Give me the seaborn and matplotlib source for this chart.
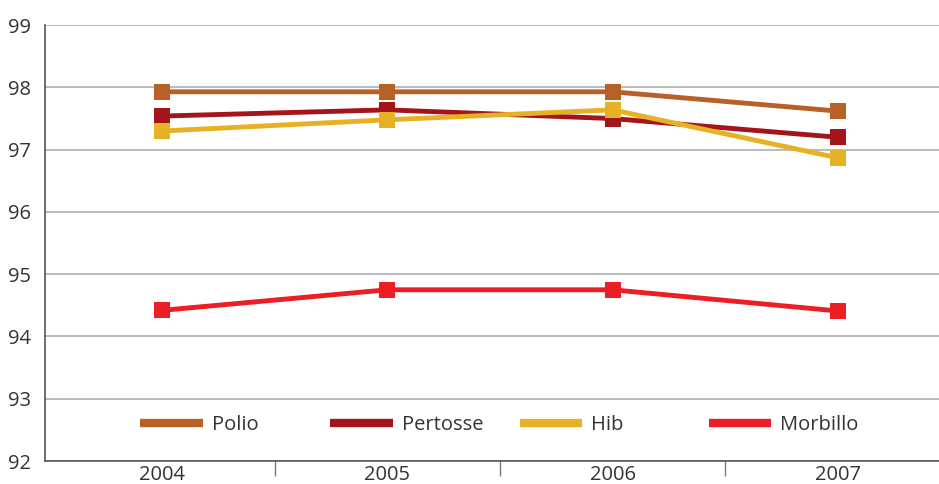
import matplotlib
matplotlib.use("Agg")
import matplotlib.pyplot as plt
import pandas as pd
import seaborn as sns
from matplotlib.lines import Line2D

# --- dati ---
anni = ["2004", "2005", "2006", "2007"]
polio = [97.93, 97.93, 97.93, 97.62]
pertosse = [97.54, 97.64, 97.50, 97.20]
hib = [97.30, 97.48, 97.64, 96.87]
morbillo = [94.42, 94.75, 94.75, 94.41]

serie = {"Polio": polio, "Pertosse": pertosse, "Hib": hib, "Morbillo": morbillo}
colori = {"Polio": "#B86127", "Pertosse": "#A3141B", "Hib": "#E6B125", "Morbillo": "#EC1D25"}

righe = []
for nome, valori in serie.items():
    for i, v in enumerate(valori):
        righe.append({"pos": i, "anno": anni[i], "vaccino": nome, "valore": v})
df = pd.DataFrame(righe)

sns.set_theme(style="white")
plt.rcParams["font.family"] = ["Open Sans", "DejaVu Sans"]

fig, ax = plt.subplots(figsize=(9.39, 4.84), dpi=100)
fig.subplots_adjust(left=0.048, right=1.0, top=0.948, bottom=0.0475)

sns.lineplot(
    data=df, x="pos", y="valore", hue="vaccino", palette=colori,
    marker="s", markersize=12, markeredgewidth=0, lw=3.5,
    legend=False, ax=ax,
)

# --- assi ---
ax.set_ylim(92, 99)
ax.set_xlim(-0.52, 3.45)
ax.set_yticks(range(92, 100))
ax.set_xticks(range(len(anni)))
ax.set_xticklabels(anni)
ax.set_xticks([0.5, 1.5, 2.5], minor=True)
ax.tick_params(axis="x", which="major", bottom=True, length=0, pad=3,
               labelsize=14.5, labelcolor="#333333")
ax.tick_params(axis="x", which="minor", bottom=True, length=11, width=1,
               color="#777777", direction="out")
ax.tick_params(axis="y", length=0, pad=10, labelsize=14.5, labelcolor="#333333")
ax.set_xlabel("")
ax.set_ylabel("")

ax.yaxis.grid(True, color="#b5b5b5", lw=1.3)
ax.set_axisbelow(True)
for lato in ["top", "right"]:
    ax.spines[lato].set_visible(False)
for lato in ["left", "bottom"]:
    ax.spines[lato].set_color("#555555")
    ax.spines[lato].set_linewidth(1.2)

# --- legenda: voci a passo costante come nell'originale ---
x_voci = [0.086, 0.299, 0.511, 0.722]
legende = []
for nome, xv in zip(serie, x_voci):
    leg = ax.legend(
        [Line2D([0], [0], color=colori[nome], lw=6, solid_capstyle="butt")], [nome],
        frameon=False, loc="center left", bbox_to_anchor=(xv, 0.083),
        handlelength=3.1, handletextpad=0.45,
        prop={"size": 14.5}, labelcolor="#333333",
    )
    legende.append(leg)
# l'ultima resta come legenda dell'asse, le altre si aggiungono come artisti
for leg in legende[:-1]:
    ax.add_artist(leg)

plt.savefig("out.png", dpi=100)
plt.close()
